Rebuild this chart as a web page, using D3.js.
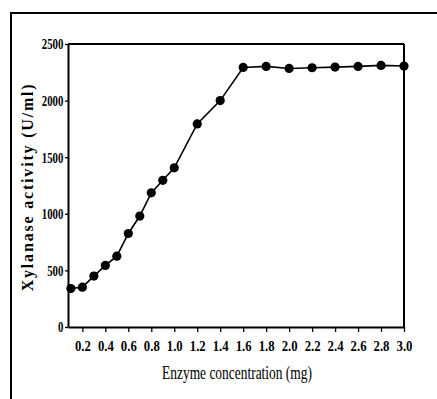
<!DOCTYPE html>
<html><head><meta charset="utf-8">
<script src="https://cdn.jsdelivr.net/npm/d3@7"></script>
<style>body{margin:0;background:#fff;} svg{display:block;}</style>
</head><body>
<svg id="c" width="437" height="399"></svg>
<script>
const concentrations = [0.1,0.2,0.3,0.4,0.5,0.6,0.7,0.8,0.9,1.0,1.2,1.4,1.6,1.8,2.0,2.2,2.4,2.6,2.8,3.0];
const activity = [340,352,450,544,626,826,980,1185,1296,1406,1794,2000,2293,2302,2284,2290,2296,2302,2311,2305];
const xTicks = [0.2,0.4,0.6,0.8,1.0,1.2,1.4,1.6,1.8,2.0,2.2,2.4,2.6,2.8,3.0];
const yTicks = [0,500,1000,1500,2000,2500];
const xTitle = "Enzyme concentration (mg)";
const yTitle = "Xylanase activity (U/ml)";

const svg = d3.select("#c");
// outer frame (top and left visible)
svg.append("path").attr("d","M11,399 V13 H440").attr("fill","none").attr("stroke","#000").attr("stroke-width",2);

const x = d3.scaleLinear().domain([0.075,3.0]).range([68,404]);
const y = d3.scaleLinear().domain([0,2500]).range([327,44]);

const font = "'Liberation Serif', serif";

// x axis
const gx = svg.append("g").attr("transform","translate(0,327)")
  .call(d3.axisBottom(x).tickValues(xTicks).tickFormat(d3.format(".1f")).tickSize(5).tickSizeOuter(0));
gx.select(".domain").attr("stroke-width",2);
gx.selectAll(".tick line").attr("stroke-width",1.3);
gx.selectAll(".tick text").attr("font-family",font).attr("font-size",15).attr("font-weight","bold")
  .attr("y",13).attr("dy","0.71em").attr("x",0).attr("transform","scale(0.85,1)");

// y axis
const gy = svg.append("g").attr("transform","translate(68,0)")
  .call(d3.axisLeft(y).tickValues(yTicks).tickFormat(d3.format("d")).tickSize(3).tickSizeOuter(0));
gy.select(".domain").attr("stroke-width",2);
gy.selectAll(".tick line").attr("stroke-width",1.3);
gy.selectAll(".tick text").attr("font-family",font).attr("font-size",15).attr("font-weight","bold")
  .attr("x",-6.5).attr("transform","scale(0.72,1)");

// top and right box lines
svg.append("line").attr("x1",x.range()[0]).attr("x2",x.range()[1]).attr("y1",y(2500)).attr("y2",y(2500))
  .attr("stroke","#000").attr("stroke-width",2);
svg.append("line").attr("x1",x.range()[1]).attr("x2",x.range()[1]).attr("y1",y(2500)).attr("y2",y(0))
  .attr("stroke","#000").attr("stroke-width",2);

// line + markers
const data = concentrations.map((c,i)=>({c, v:activity[i]}));
svg.append("path").datum(data)
  .attr("d", d3.line().x(d=>x(d.c)).y(d=>y(d.v)))
  .attr("fill","none").attr("stroke","#000").attr("stroke-width",1.6);
svg.selectAll("circle.pt").data(data).join("circle").attr("class","pt")
  .attr("cx",d=>x(d.c)).attr("cy",d=>y(d.v)).attr("r",4.6).attr("fill","#000");

// titles
const xt = svg.append("text").attr("x",0).attr("y",0).attr("text-anchor","middle")
  .attr("font-family",font).attr("font-size",18)
  .text(xTitle);
const xl = xt.node().getComputedTextLength();
xt.attr("transform",`translate(237,379) scale(${150/xl},1)`);

const yt = svg.append("text").attr("text-anchor","middle")
  .attr("font-family",font).attr("font-size",16).attr("font-weight","bold")
  .text(yTitle);
const yl = yt.node().getComputedTextLength();
const ls = Math.max(0, (207 - yl) / (yTitle.length - 1));
yt.attr("letter-spacing", ls).attr("transform",`translate(33,${186 + ls/2}) rotate(-90)`);
</script>
</body></html>
